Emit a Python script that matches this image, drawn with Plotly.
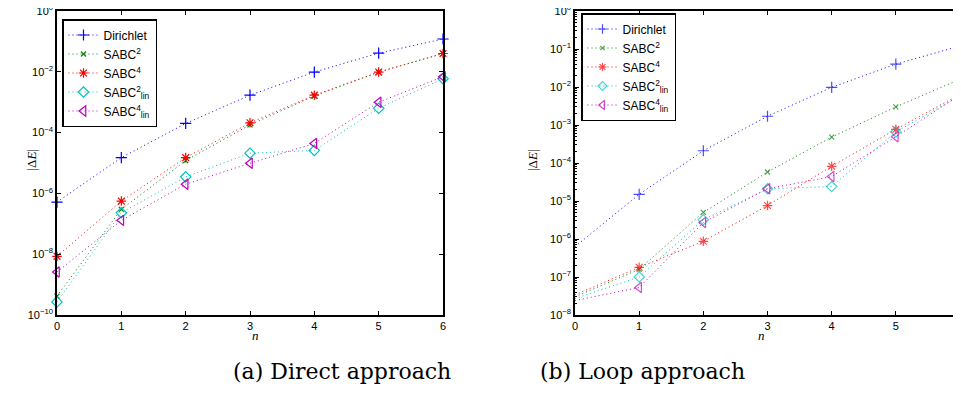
import plotly.graph_objects as go

n = [0, 1, 2, 3, 4, 5, 6]

series_names = ["Dirichlet", "SABC<sup>2</sup>", "SABC<sup>4</sup>",
                "SABC<sup>2</sup><sub>lin</sub>", "SABC<sup>4</sup><sub>lin</sub>"]

# (a) Direct approach
dir_dirichlet = [5.2e-7, 1.5e-5, 2.0e-4, 1.7e-3, 9.8e-3, 4.1e-2, 1.2e-1]
dir_sabc2 = [4.2e-10, 3.0e-7, 1.2e-5, 1.8e-4, 1.6e-3, 9.8e-3, 4.0e-2]
dir_sabc4 = [8.5e-9, 5.6e-7, 1.5e-5, 2.1e-4, 1.7e-3, 9.8e-3, 4.0e-2]
dir_sabc2lin = [2.7e-10, 2.3e-7, 3.5e-6, 2.1e-5, 2.6e-5, 6.3e-4, 5.9e-3]
dir_sabc4lin = [2.6e-9, 1.3e-7, 2.0e-6, 9.8e-6, 4.4e-5, 1.0e-3, 6.9e-3]

# (b) Loop approach
loop_dirichlet = [6.3e-7, 1.5e-5, 2.1e-4, 1.7e-3, 9.8e-3, 4.0e-2, 1.2e-1]
loop_sabc2 = [3.0e-8, 1.6e-7, 5.0e-6, 5.8e-5, 4.8e-4, 3.0e-3, 1.6e-2]
loop_sabc4 = [3.4e-8, 1.8e-7, 8.7e-7, 7.6e-6, 8.2e-5, 7.7e-4, 6.4e-3]
loop_sabc2lin = [2.7e-8, 1.0e-7, 3.2e-6, 2.1e-5, 2.4e-5, 6.6e-4, 5.8e-3]
loop_sabc4lin = [2.4e-8, 5.3e-8, 2.7e-6, 2.1e-5, 4.4e-5, 4.9e-4, 6.2e-3]

# y tick exponents
dir_exponents = [-10, -8, -6, -4, -2, 0]
loop_exponents = [-8, -7, -6, -5, -4, -3, -2, -1, 0]

captions = ["(a) Direct approach", "(b) Loop approach"]
x_title = "<i>n</i>"
y_title = "|Δ<i>E</i>|"

colors = ["#0000ff", "#008000", "#ff0000", "#00bfbf", "#bf00bf"]
symbols = ["cross-thin-open", "x-thin-open", "asterisk-open", "diamond-open", "triangle-left-open"]
sizes = [8, 5, 8, 8, 9]

# page body margin offset (browser default 8px)
W, H, OFF = 961, 406, 8
FW, FH = W - OFF, H - OFF


def px(x):
    return (x - OFF) / FW


def py(y):
    return 1 - (y - OFF) / FH


def exp_labels(exps):
    return ["10<sup>" + str(e).replace("-", "\u2212") + "</sup>" for e in exps]


fig = go.Figure()

direct = [dir_dirichlet, dir_sabc2, dir_sabc4, dir_sabc2lin, dir_sabc4lin]
loop = [loop_dirichlet, loop_sabc2, loop_sabc4, loop_sabc2lin, loop_sabc4lin]

for i, ys in enumerate(direct):
    fig.add_trace(go.Scatter(
        x=n, y=ys, mode="lines+markers", name=series_names[i],
        xaxis="x", yaxis="y", legend="legend",
        line=dict(color=colors[i], width=1, dash="1px,3px"),
        marker=dict(symbol=symbols[i], size=sizes[i], color=colors[i],
                    line=dict(color=colors[i], width=1.2)),
        cliponaxis=False,
    ))

for i, ys in enumerate(loop):
    msizes = [0] + [sizes[i]] * (len(n) - 1)
    fig.add_trace(go.Scatter(
        x=n, y=ys, mode="lines+markers", name=series_names[i],
        xaxis="x2", yaxis="y2", legend="legend2",
        line=dict(color=colors[i], width=1, dash="1px,3px"),
        marker=dict(symbol=symbols[i], size=msizes, color=colors[i],
                    line=dict(color=colors[i], width=1.2)),
        cliponaxis=False,
    ))

tickfont = dict(family="Liberation Sans", size=11, color="black")
axis_common = dict(showline=True, linecolor="black", linewidth=1.5, mirror="ticks",
                   ticks="inside", ticklen=4, tickcolor="black", showgrid=False,
                   zeroline=False, tickfont=tickfont, automargin=False,
                   ticklabeloverflow="allow")
title_font = dict(family="Liberation Serif", size=13, color="black")
caption_font = dict(family="DejaVu Serif", size=22, color="black")

fig.update_layout(
    width=FW, height=FH,
    margin=dict(l=0, r=0, t=0, b=0, autoexpand=False),
    paper_bgcolor="white", plot_bgcolor="white",
    xaxis=dict(domain=[px(57), px(443)], range=[0, 6], dtick=1, anchor="y", **axis_common),
    yaxis=dict(domain=[py(315), py(11)], type="log", range=[-10, 0],
               tickvals=[10.0 ** e for e in dir_exponents], ticktext=exp_labels(dir_exponents),
               anchor="x", **axis_common),
    xaxis2=dict(domain=[px(575), px(960)], range=[0, 6], dtick=1, anchor="y2", **axis_common),
    yaxis2=dict(domain=[py(315), py(11)], type="log", range=[-8, 0],
                tickvals=[10.0 ** e for e in loop_exponents], ticktext=exp_labels(loop_exponents),
                anchor="x2",
                minor=dict(ticks="inside", ticklen=2, tickcolor="black", dtick="D1"),
                **axis_common),
    legend=dict(x=px(62), y=py(19), xanchor="left", yanchor="top",
                bgcolor="white", bordercolor="black", borderwidth=1.5,
                font=dict(family="Liberation Sans", size=12, color="black"),
                tracegroupgap=0, itemwidth=30),
    legend2=dict(x=px(581), y=py(13), xanchor="left", yanchor="top",
                 bgcolor="white", bordercolor="black", borderwidth=1.5,
                 font=dict(family="Liberation Sans", size=12, color="black"),
                 tracegroupgap=0, itemwidth=30),
    annotations=[
        dict(text=captions[0], x=px(231), y=py(386), xref="paper", yref="paper",
             showarrow=False, font=caption_font),
        dict(text=captions[1], x=px(747), y=py(386), xref="paper", yref="paper",
             showarrow=False, font=caption_font),
        dict(text=x_title, x=px(250), y=py(345), xref="paper", yref="paper",
             showarrow=False, font=title_font),
        dict(text=x_title, x=px(767), y=py(345), xref="paper", yref="paper",
             showarrow=False, font=title_font),
        dict(text=y_title, x=px(21), y=py(160), xref="paper", yref="paper",
             showarrow=False, textangle=-90, font=title_font),
        dict(text=y_title, x=px(532), y=py(160), xref="paper", yref="paper",
             showarrow=False, textangle=-90, font=title_font),
    ],
)

fig.write_html("out.html")
